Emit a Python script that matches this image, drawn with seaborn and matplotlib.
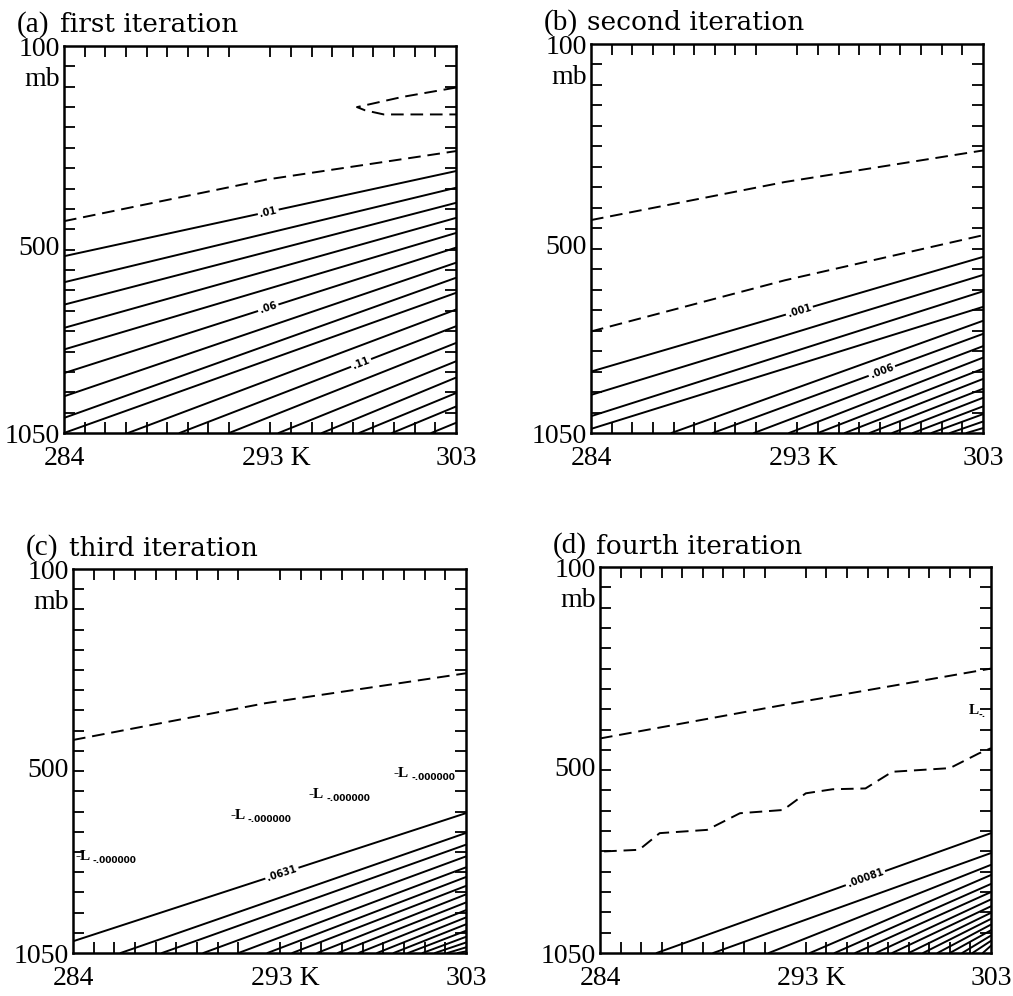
import matplotlib.pyplot as plt
import matplotlib.transforms as mtransforms
import numpy as np
import pandas as pd
import seaborn as sns
from matplotlib.ticker import MultipleLocator

sns.set_theme(style="white")
plt.rcParams["font.family"] = ["Liberation Serif", "DejaVu Serif"]
plt.rcParams["text.color"] = "black"
plt.rcParams["xtick.color"] = "black"
plt.rcParams["ytick.color"] = "black"

T_MIN, T_MAX = 284, 303
P_TOP, P_BOT = 100, 1050

# ---- panel (a): first iteration ----
a_left_p = [616, 680, 735, 792, 845, 903, 960, 1013, 1050]
a_bottom_T = [287.1, 289.6, 292.0, 294.4, 296.5, 298.3, 299.9, 301.8]
a_right_p = [407, 448, 485, 522, 559, 595, 632, 669, 706, 747, 788, 829, 874, 914, 952, 985, 1025]
a_dash_T = [[303, 300.4, 298.2, 298.6, 299.5, 303], [284, 293.8, 303]]
a_dash_p = [[202, 225, 250, 258, 268, 268], [530, 428, 358]]
a_labels = [(".01", 0, 293.9), (".06", 5, 293.9), (".11", 10, 298.4)]

# ---- panel (b): second iteration ----
b_left_p = [900, 957, 1009, 1040]
b_bottom_T = [287.9, 289.9, 291.9, 293.6, 295.0, 296.3, 297.5, 298.6, 299.6, 300.5, 301.4, 302.2]
b_right_p = [620, 664, 704, 742, 776, 808, 838, 866, 893, 918, 942, 964, 985, 1004, 1022, 1038]
b_dash_T = [[284, 293.4, 303], [284, 293.4, 303]]
b_dash_p = [[530, 437, 360], [802, 677, 567]]
b_labels = [(".001", 0, 294.1), (".006", 5, 298.1)]

# ---- panel (c): third iteration ----
c_left_p = [1021]
c_bottom_T = [286.3, 288.3, 290.3, 292.0, 293.4, 294.6, 295.8, 296.8, 297.8, 298.7,
              299.5, 300.2, 300.9, 301.5, 302.1, 302.6]
c_right_p = [704, 753, 782, 811, 838, 862, 884, 905, 925, 944, 962, 979, 995, 1010, 1024, 1036, 1046]
c_dash_T = [[284, 293.3, 303]]
c_dash_p = [[523, 432, 358]]
c_labels = [(".0631", 0, 294.1)]
c_low_T = [284.1, 291.6, 295.4, 299.5]
c_low_p = [812, 709, 659, 605]
c_low_text = ["-.000000"] * 4

# ---- panel (d): fourth iteration ----
d_left_p = []
d_bottom_T = [286.75, 289.5, 292.2, 294.2, 295.4, 296.4, 297.4, 298.2, 299.0, 299.7,
              300.4, 301.0, 301.6, 302.1, 302.6]
d_right_p = [755, 804, 833, 858, 880, 900, 918, 935, 951, 966, 980, 994, 1007, 1020, 1032]
d_dash_T = [[284, 293.3, 303],
            [284.2, 285.9, 286.9, 289.2, 290.8, 292.9, 294.0, 295.3, 296.9, 298.2, 301.0, 302.4, 303]]
d_dash_p = [[522, 436, 350],
            [800, 796, 755, 747, 706, 698, 657, 647, 645, 604, 595, 559, 546]]
d_labels = [(".00081", 0, 296.9)]
d_low_T = [301.9]
d_low_p = [452]
d_low_text = ["-."]

panels = [
    ("(a)", "first iteration", a_left_p, a_bottom_T, a_right_p, a_dash_T, a_dash_p, a_labels, [], [], []),
    ("(b)", "second iteration", b_left_p, b_bottom_T, b_right_p, b_dash_T, b_dash_p, b_labels, [], [], []),
    ("(c)", "third iteration", c_left_p, c_bottom_T, c_right_p, c_dash_T, c_dash_p, c_labels,
     c_low_T, c_low_p, c_low_text),
    ("(d)", "fourth iteration", d_left_p, d_bottom_T, d_right_p, d_dash_T, d_dash_p, d_labels,
     d_low_T, d_low_p, d_low_text),
]

# axes boxes in figure pixels (left, top, right, bottom)
W, H = 1013, 996
boxes = [(64, 46, 456, 433), (591, 44, 983, 433), (73, 569, 466, 953), (600, 567, 991, 953)]


def build_lines(left_p, bottom_T, right_p, dash_T, dash_p):
    starts = [(T_MIN, p) for p in left_p] + [(t, P_BOT) for t in bottom_T]
    rows = []
    for i, ((t0, p0), p1) in enumerate(zip(starts, right_p)):
        rows.append({"line": f"s{i}", "kind": "pos", "T": t0, "p": p0})
        rows.append({"line": f"s{i}", "kind": "pos", "T": T_MAX, "p": p1})
    for j, (ts, ps) in enumerate(zip(dash_T, dash_p)):
        for t, p in zip(ts, ps):
            rows.append({"line": f"d{j}", "kind": "neg", "T": t, "p": p})
    return pd.DataFrame(rows), starts


fig = plt.figure(figsize=(W / 100, H / 100), dpi=100)
fig.patch.set_facecolor("white")

for (tag, title, left_p, bottom_T, right_p, dash_T, dash_p, labels, low_T, low_p, low_text), (l, t, r, b) \
        in zip(panels, boxes):
    ax = fig.add_axes([l / W, 1 - b / H, (r - l) / W, (b - t) / H])
    df, starts = build_lines(left_p, bottom_T, right_p, dash_T, dash_p)
    sns.lineplot(data=df, x="T", y="p", units="line", estimator=None, sort=False,
                 style="kind", dashes={"pos": "", "neg": (6.5, 3.5)}, color="black",
                 linewidth=1.4, legend=False, ax=ax)
    ax.set_xlim(T_MIN, T_MAX)
    ax.set_ylim(P_BOT, P_TOP)
    ax.set_xlabel("")
    ax.set_ylabel("")

    # contour value labels sitting in gaps of the lines
    for text, idx, tl in labels:
        (t0, p0), p1 = starts[idx], right_p[idx]
        pl = p0 + (p1 - p0) * (tl - t0) / (T_MAX - t0)
        d0 = ax.transData.transform((t0, p0))
        d1 = ax.transData.transform((T_MAX, p1))
        ang = np.degrees(np.arctan2(d1[1] - d0[1], d1[0] - d0[0]))
        ax.text(tl, pl, text, rotation=ang, rotation_mode="anchor", ha="center", va="center",
                fontsize=7, fontweight="bold", family="DejaVu Sans",
                bbox=dict(facecolor="white", edgecolor="none", pad=1.5))

    # low-centre markers
    for tl, pl, lt in zip(low_T, low_p, low_text):
        lbl = "-L" if len(lt) > 2 else "L"
        ax.text(tl, pl, lbl, ha="left", va="center", fontsize=11, fontweight="bold")
        ax.text(tl + (0.85 if lbl == "-L" else 0.5), pl + 10, lt, ha="left", va="center",
                fontsize=6.5, fontweight="bold", family="DejaVu Sans")

    for sp in ax.spines.values():
        sp.set_color("black")
        sp.set_linewidth(1.8)
    ax.xaxis.set_minor_locator(MultipleLocator(1))
    ax.yaxis.set_minor_locator(MultipleLocator(50))
    ax.set_xticks([284, 293, 303], ["284", "293 K", "303"])
    ax.set_yticks([100, 590, 1050], ["100", "500", "1050"])
    ax.tick_params(which="minor", direction="in", length=8, width=1.3, color="black",
                   top=True, right=True, bottom=True, left=True)
    ax.tick_params(which="major", direction="in", length=0, labelsize=20, labelcolor="black")
    ax.tick_params(axis="x", which="major", pad=9)
    ax.tick_params(axis="y", which="major", pad=3)
    mid = ax.get_xticklabels()[1]
    mid.set_ha("left")
    mid.set_transform(mid.get_transform() + mtransforms.ScaledTranslation(-0.08, 0, fig.dpi_scale_trans))
    ax.text(-0.01, 183, "mb", transform=ax.get_yaxis_transform(), ha="right", va="center",
            fontsize=20)

    fig.text((l - 47) / W, 1 - (t - 21) / H, tag, ha="left", va="center", fontsize=21)
    fig.text((l - 4) / W, 1 - (t - 21) / H, title, ha="left", va="center", fontsize=19,
             family="DejaVu Serif")

fig.savefig("out.png", dpi=100, facecolor="white")
